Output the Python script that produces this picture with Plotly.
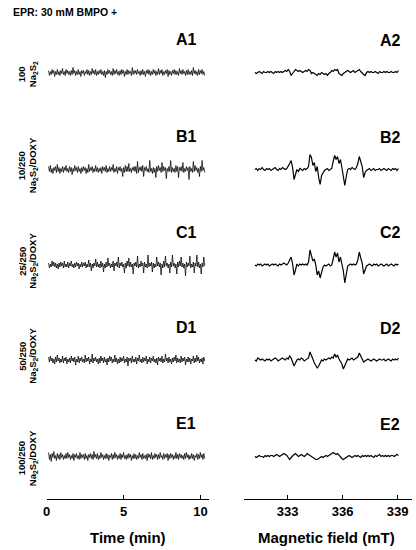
import numpy as np
import plotly.graph_objects as go
from plotly.subplots import make_subplots

W, H = 416, 550
FONT = "Liberation Sans, Arial, sans-serif"

# sampling windows of the recorded traces
TIME_START, TIME_END = 0.13, 10.27      # min
FIELD_START, FIELD_END = 331.22, 339.04  # mT

TIME_TICKS = [0, 5, 10]
FIELD_TICKS = [333, 336, 339]

PANEL_LETTERS = ["A", "B", "C", "D", "E"]
RATIO_LABELS = ["100", "10/250", "25/250", "50/250", "100/250"]
SAMPLE_LABELS = [
    "Na<sub>2</sub>S<sub>2</sub>",
    "Na<sub>2</sub>S<sub>2</sub>/DOXY",
    "Na<sub>2</sub>S<sub>2</sub>/DOXY",
    "Na<sub>2</sub>S<sub>2</sub>/DOXY",
    "Na<sub>2</sub>S<sub>2</sub>/DOXY",
]

# kinetic traces (signal vs time, arbitrary units)
KIN_A = [2, -3, 1, -2, 3, -1, 2, -4, 1, -2, 3, -2, 1, -3, 2, -1, 4, -2, 1, -3,
         3, -1, 2, -2, 1, -3, 2, -2, 5, -1, 2, -3, 1, -2, 3, -2, 1, -4, 2, -1,
         2, -3, 1, -1, 3, -2, 2, -3, 1, -2, 4, -1, 2, -2, 3, -3, 1, -2, 2, -1,
         3, -2, 1, -3, 2, -5, 1, -2, 3, -1, 2, -2, 1, -3, 4, -2, 2, -1, 3, -2,
         1, -3, 2, -2, 3, -1, 2, -4, 1, -2, 3, -2, 2, -1, 1, -3, 5, -2, 2, -1,
         2, -2, 3, -1, 1, -3, 2, -2, 3, -2, 1, -4, 2, -1, 3, -2, 2, -3, 1, -2,
         3, -1, 2, -3, 1, -2, 4, -2, 2, -1, 3, -3, 1, -2, 2, -1, 3, -4, 2, -2,
         1, -3, 2, -1, 3, -2, 2, -2, 1, -3, 4, -1, 2, -2, 3, -1, 1, -3, 2, -2,
         3, -2, 1, -2, 2, -3, 5, -1, 2, -2, 1, -3, 3, -2, 2, -1, 3, -2, 1, -3]
KIN_B = [3, -2, 4, -3, 1, -4, 2, -1, 3, -3, 5, -2, 2, -4, 1, -2, 3, -3, 2, -1,
         4, -2, 1, -3, 3, -2, 2, -5, 1, -2, 4, -1, 2, -3, 3, -2, 1, -4, 2, -2,
         3, -1, 2, -4, 1, -3, 5, -2, 2, -1, 3, -3, 1, -2, 4, -2, 2, -3, 1, -2,
         2, -4, 3, -1, 2, -2, 4, -3, 1, -2, 3, -2, 2, -1, 5, -3, 1, -2, 3, -4,
         2, -1, 3, -2, 1, -7, 2, -3, 4, -2, 3, -2, 6, -2, 1, -3, 2, -1, 3, -2,
         3, -4, 8, -3, 2, -1, 3, -2, 4, -7, 2, -1, 3, -2, 1, -3, 9, -2, 1, -4,
         2, -3, 1, -8, 3, -2, 4, -1, 2, -3, 7, -2, 3, -1, 2, -9, 1, -2, 3, -2,
         9, -3, 2, -2, 1, -3, 4, -2, 3, -8, 2, -1, 3, -2, 7, -3, 1, -2, 3, -1,
         2, -10, 3, -2, 1, -3, 8, -2, 4, -1, 2, -3, 1, -7, 3, -2, 9, -1, 2, -3]
KIN_C = [2, -3, 1, -2, 4, -1, 3, -2, 2, -3, 1, -4, 2, -2, 3, -1, 2, -3, 4, -2,
         1, -2, 3, -3, 2, -1, 4, -2, 1, -3, 2, -2, 3, -1, 2, -4, 1, -2, 3, -2,
         2, -1, 3, -3, 1, -2, 5, -2, 2, -6, 1, -3, 2, -1, 6, -2, 3, -2, 1, -3,
         4, -2, 2, -7, 1, -3, 3, -2, 7, -1, 2, -3, 1, -2, 4, -6, 2, -1, 3, -2,
         8, -3, 2, -1, 3, -2, 1, -8, 2, -3, 4, -1, 7, -2, 3, -2, 1, -9, 2, -1,
         3, -2, 9, -3, 1, -2, 4, -1, 2, -8, 3, -2, 1, -3, 10, -2, 2, -1, 3, -7,
         2, -3, 1, -2, 8, -1, 3, -2, 2, -10, 1, -3, 4, -2, 9, -1, 2, -3, 1, -8,
         3, -2, 10, -1, 2, -3, 1, -9, 3, -2, 4, -1, 8, -2, 2, -3, 1, -11, 3, -2,
         2, -1, 9, -3, 1, -2, 3, -8, 2, -1, 10, -2, 3, -3, 1, -9, 2, -2, 8, -1]
KIN_D = [3, -2, 4, -1, 2, -3, 1, -4, 3, -2, 5, -1, 2, -3, 1, -2, 4, -3, 2, -1,
         3, -4, 1, -2, 2, -3, 4, -1, 2, -2, 3, -5, 1, -2, 4, -3, 2, -1, 3, -2,
         1, -3, 5, -2, 2, -1, 3, -4, 1, -2, 6, -3, 2, -1, 3, -2, 1, -4, 2, -3,
         4, -1, 2, -3, 3, -2, 1, -5, 2, -2, 4, -1, 3, -3, 1, -2, 5, -2, 2, -4,
         1, -3, 3, -2, 2, -1, 4, -3, 1, -2, 3, -6, 2, -1, 2, -3, 4, -2, 1, -2,
         3, -4, 2, -1, 5, -2, 1, -3, 3, -2, 2, -1, 4, -4, 1, -2, 3, -3, 2, -1,
         4, -2, 1, -3, 2, -5, 3, -1, 2, -2, 4, -3, 1, -2, 6, -1, 2, -3, 3, -2,
         1, -4, 2, -2, 3, -1, 5, -3, 2, -2, 1, -3, 4, -2, 2, -1, 3, -5, 1, -2,
         3, -2, 2, -4, 1, -1, 4, -3, 2, -2, 5, -1, 3, -3, 1, -2, 2, -4, 3, -1]
KIN_E = [4, -3, 2, -5, 3, -1, 5, -2, 1, -4, 3, -2, 2, -3, 4, -1, 2, -3, 1, -2,
         3, -2, 4, -1, 2, -3, 1, -2, 3, -4, 2, -1, 3, -2, 1, -3, 4, -2, 2, -1,
         2, -3, 3, -2, 1, -4, 2, -1, 3, -2, 2, -3, 5, -1, 2, -2, 3, -3, 1, -2,
         4, -1, 2, -3, 1, -2, 3, -2, 2, -4, 1, -1, 3, -3, 2, -2, 4, -1, 2, -3,
         1, -2, 3, -3, 2, -1, 4, -2, 1, -3, 2, -2, 3, -1, 2, -4, 1, -2, 3, -2,
         2, -3, 1, -2, 4, -1, 2, -3, 3, -2, 1, -2, 2, -4, 3, -1, 2, -2, 4, -3,
         1, -2, 3, -1, 2, -3, 2, -2, 4, -1, 1, -3, 3, -2, 2, -1, 3, -4, 2, -2,
         3, -1, 2, -3, 1, -2, 4, -2, 2, -3, 3, -1, 2, -2, 1, -3, 3, -2, 4, -1,
         2, -3, 1, -2, 3, -2, 2, -4, 1, -1, 3, -3, 2, -2, 4, -1, 2, -3, 3, -2]

# EPR spectra (signal vs magnetic field, arbitrary units)
EPR_A = [0, -1, 0, 1, 0, -1, 1, 0, 0, 1, 0, 1, 0, -1, 1, 0, 1, 0, 1, 0,
         1, 2, 1, 3, 1, -3, -1, 1, 3, 2, 1, 2, 1, 0, 1, 2, 1, 3, 2, -1,
         0, -1, -2, -3, -1, -2, 0, -1, -2, -1, -3, -1, 0, 2, 1, 3, 2, 3, -1, -2,
         -3, -1, 0, 1, 2, 1, 0, 1, 2, 0, 1, 2, 3, 1, -1, -2, -3, 0, 1, 0,
         1, 0, 0, 1, 0, -1, 1, 0, 0, 1, 0, 1, 0, 0, 1, 0, 0, 1, 0, 2]
EPR_B = [0, 1, -1, 1, 0, 2, 0, -1, 1, 0, 1, -1, 0, 1, 2, 0, -1, 1, 0, 2,
         1, 0, 1, 3, 6, 9, 2, -10, -6, 0, -2, 1, 0, -1, 1, 0, 1, 3, 15, 12,
         4, 7, -2, 3, -8, -15, -6, -3, -1, 0, 1, -1, 0, 1, 8, 14, 10, 13, 6, 10,
         2, -6, -16, -7, 0, 1, 0, 2, 1, 0, 2, 6, 13, 8, 3, -8, -3, -1, 0, 1,
         -1, 0, 1, -1, 0, 0, 1, -1, 0, 1, 0, -1, 1, 0, -1, 1, 0, 1, -1, 1]
EPR_C = [0, -1, 1, 0, 1, -1, 0, 1, 0, 1, -1, 0, 1, 0, 1, 0, -1, 1, 0, 1,
         2, 1, 0, 2, 5, 8, 1, -10, -5, 1, -1, 1, 0, 1, 0, 1, 0, 3, 15, 10,
         4, 6, 0, -10, -6, -13, -8, -2, 0, -1, 0, 1, -1, 0, 6, 13, 8, 12, 3, 8,
         1, -6, -18, -7, -1, 0, 1, 0, 1, 0, 1, 5, 13, 7, 2, -9, -4, -1, 0, 1,
         0, -1, 1, 0, 1, -1, 0, 1, 0, -1, 0, 1, -1, 0, 1, 0, -1, 1, 0, 1]
EPR_D = [0, -1, 2, 1, 0, 1, 0, -1, 1, 0, 1, -1, 0, 1, 2, 1, -1, 0, 1, 2,
         1, 0, 2, 1, 4, 2, -2, -6, -3, 0, 1, 0, 2, 1, -1, 0, 1, 2, 8, 5,
         1, -3, -5, -8, -6, -2, 0, -1, 1, 0, 1, 2, 1, 3, 2, 6, 3, 5, 1, -2,
         -4, -9, -5, -1, 1, 0, 1, 2, 0, 1, 2, 3, 7, 4, 0, -2, -1, 0, 1, 0,
         -1, 0, 1, 0, -1, 0, 1, 0, 0, 1, -1, 0, 1, 0, -1, 1, 0, 1, 0, 2]
EPR_E = [0, -1, 0, 1, 0, 0, -1, 1, 0, 1, 0, 1, 1, 0, 1, 2, 1, 0, 1, 2,
         3, 2, 1, -1, -3, -1, 1, 2, 3, 1, 0, 1, 2, 1, 0, 1, 3, 2, 1, 0,
         -1, -2, -3, -3, -2, -1, 0, -1, 0, 1, 0, 1, 2, 3, 4, 3, 2, 3, 1, 0,
         -2, -3, -2, -1, 0, 1, 0, -1, 0, 1, 0, 1, 0, -1, 1, 0, 1, 0, 1, 0,
         1, 0, -1, 1, 0, 1, 2, 0, 1, 0, 1, 0, 1, 0, 1, 1, 0, 1, 2, 1]

KINETICS = [KIN_A, KIN_B, KIN_C, KIN_D, KIN_E]
SPECTRA = [EPR_A, EPR_B, EPR_C, EPR_D, EPR_E]

# layout (pixels in the 416x550 page)
BASELINES = [72.5, 169.5, 265, 360, 456.5]
HALF = 42.5
LEFT_DOM = (43, 207)
RIGHT_DOM = (242, 412)


def px(x):
    return x / W


def py(y):
    return 1 - y / H


fig = make_subplots(rows=5, cols=2)

axis_font = dict(family=FONT, size=13, color="black", weight="bold")
for i in range(5):
    r = i + 1
    t = np.linspace(TIME_START, TIME_END, len(KINETICS[i]))
    b = np.linspace(FIELD_START, FIELD_END, len(SPECTRA[i]))
    fig.add_trace(go.Scatter(x=t, y=KINETICS[i], mode="lines", hoverinfo="skip",
                             line=dict(color="black", width=0.75)), row=r, col=1)
    fig.add_trace(go.Scatter(x=b, y=SPECTRA[i], mode="lines", hoverinfo="skip",
                             line=dict(color="black", width=1.2)), row=r, col=2)
    dom = [py(BASELINES[i] + HALF), py(BASELINES[i] - HALF)]
    for c in (1, 2):
        fig.update_yaxes(domain=dom, range=[-HALF, HALF], visible=False, row=r, col=c)
    last = i == 4
    common = dict(visible=last, showgrid=False, zeroline=False, showline=True,
                  linecolor="black", linewidth=1.3, ticks="inside", ticklen=4,
                  tickcolor="black", tickwidth=1.2, tickfont=axis_font)
    fig.update_xaxes(domain=[px(LEFT_DOM[0]), px(LEFT_DOM[1])], range=[0, 10.55],
                     tickvals=TIME_TICKS, row=r, col=1, **common)
    fig.update_xaxes(domain=[px(RIGHT_DOM[0]), px(RIGHT_DOM[1])], range=[330.61, 339.78],
                     tickvals=FIELD_TICKS, row=r, col=2, **common)

annotations = []
letter_font = dict(family=FONT, size=16, color="black", weight="bold")
side_font = dict(family=FONT, size=9.5, color="black", weight="bold")
for i, letter in enumerate(PANEL_LETTERS):
    base = BASELINES[i]
    annotations.append(dict(text=f"{letter}1", x=px(184), y=py(base - 33), font=letter_font))
    annotations.append(dict(text=f"{letter}2", x=px(390), y=py(base - 32), font=letter_font))
    yc = base + (2 if i in (0, 4) else -4)
    annotations.append(dict(text=RATIO_LABELS[i], x=px(18), y=py(yc), textangle=-90, font=side_font))
    annotations.append(dict(text=SAMPLE_LABELS[i], x=px(29), y=py(yc), textangle=-90, font=side_font))

annotations.append(dict(text="EPR: 30 mM BMPO +", x=px(7), y=py(12), xanchor="left",
                        font=dict(family=FONT, size=10.5, color="black", weight="bold")))
title_font = dict(family=FONT, size=15, color="black", weight="bold")
annotations.append(dict(text="Time (min)", x=px(125), y=py(537), font=title_font))
annotations.append(dict(text="Magnetic field (mT)", x=px(326), y=py(537), font=title_font))

for a in annotations:
    a.setdefault("xanchor", "center")
    a.update(xref="paper", yref="paper", yanchor="middle", showarrow=False)

fig.update_layout(
    width=W, height=H, showlegend=False,
    margin=dict(l=0, r=0, t=0, b=0),
    plot_bgcolor="white", paper_bgcolor="white",
    font=dict(family=FONT, color="black"),
    annotations=annotations,
)

# page body margin would push the 416x550 figure out of the window
fig.write_html("out.html", config={"displayModeBar": False},
               post_script="document.body.style.margin='0';")
